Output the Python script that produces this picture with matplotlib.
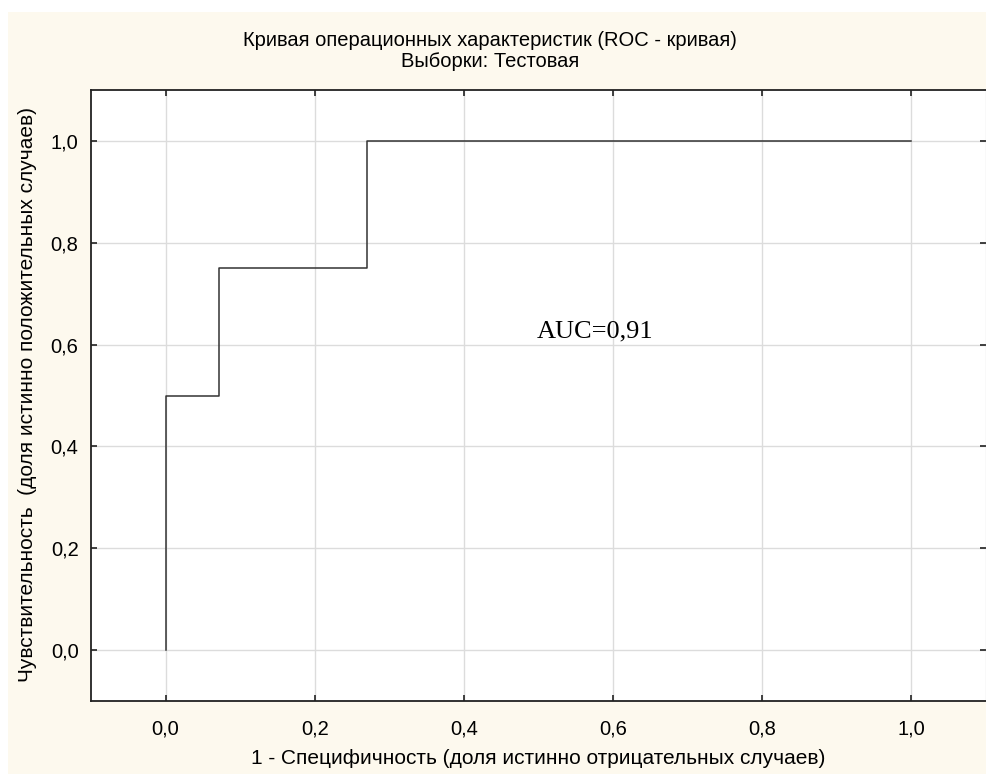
"""ROC curve for the test sample, saved as out.png"""

import matplotlib.pyplot as plt
from matplotlib.patches import Rectangle
from matplotlib.ticker import FuncFormatter

# Step points of the ROC curve
fpr = [0.0, 0.0, 0.072, 0.072, 0.27, 0.27, 1.0]
tpr = [0.0, 0.5, 0.5, 0.75, 0.75, 1.0, 1.0]
ticks = [0.0, 0.2, 0.4, 0.6, 0.8, 1.0]
auc_label = "AUC=0,91"

title = "Кривая операционных характеристик (ROC - кривая)\nВыборки: Тестовая"
x_label = "1 - Специфичность (доля истинно отрицательных случаев)"
y_label = "Чувствительность  (доля истинно положительных случаев)"

plt.rcParams["font.family"] = ["Liberation Sans", "DejaVu Sans"]

W, H = 986, 774
figure = plt.figure(figsize=(W / 100, H / 100), dpi=100, facecolor="white")
# Cream panel behind everything, with a thin white margin top and left
figure.patches.append(
    Rectangle((8 / W, -0.1), 2, 1.1 - 12 / H, transform=figure.transFigure,
              facecolor="#fdf9ee", edgecolor="none", zorder=-1)
)

axes = figure.add_axes([91 / W, 1 - 701 / H, (W - 91) / W, (701 - 90) / H])
axes.set_facecolor("white")

axes.plot(fpr, tpr, color="#333333", linewidth=1.1)
axes.text(0.576, 0.625, auc_label, fontsize=19, family="Liberation Serif",
          ha="center", va="center")

axes.set_xlim(-0.1, 1.1)
axes.set_ylim(-0.1, 1.1)
axes.set_xticks(ticks)
axes.set_yticks(ticks)
comma = FuncFormatter(lambda v, _: f"{v:.1f}".replace(".", ","))
axes.xaxis.set_major_formatter(comma)
axes.yaxis.set_major_formatter(comma)
axes.tick_params(direction="in", length=4, width=1.2, labelsize=14.5,
                 top=True, right=True, color="#222222")
axes.tick_params(axis="x", pad=13)
axes.tick_params(axis="y", pad=9)
axes.grid(True, color="#dcdcdc", linewidth=1.0)
axes.set_axisbelow(True)

for side in ("left", "top", "bottom"):
    axes.spines[side].set_linewidth(1.3)
    axes.spines[side].set_color("#222222")
axes.spines["right"].set_color("#999999")

figure.text(490 / W, 1 - 51 / H, title, ha="center", va="center",
            fontsize=14.5, linespacing=1.1)
figure.text(538 / W, 1 - 759 / H, x_label, ha="center", va="center",
            fontsize=15)
figure.text(28 / W, 1 - 394 / H, y_label, ha="center", va="center",
            fontsize=15, rotation=90)

figure.savefig("out.png", dpi=100, facecolor=figure.get_facecolor())
